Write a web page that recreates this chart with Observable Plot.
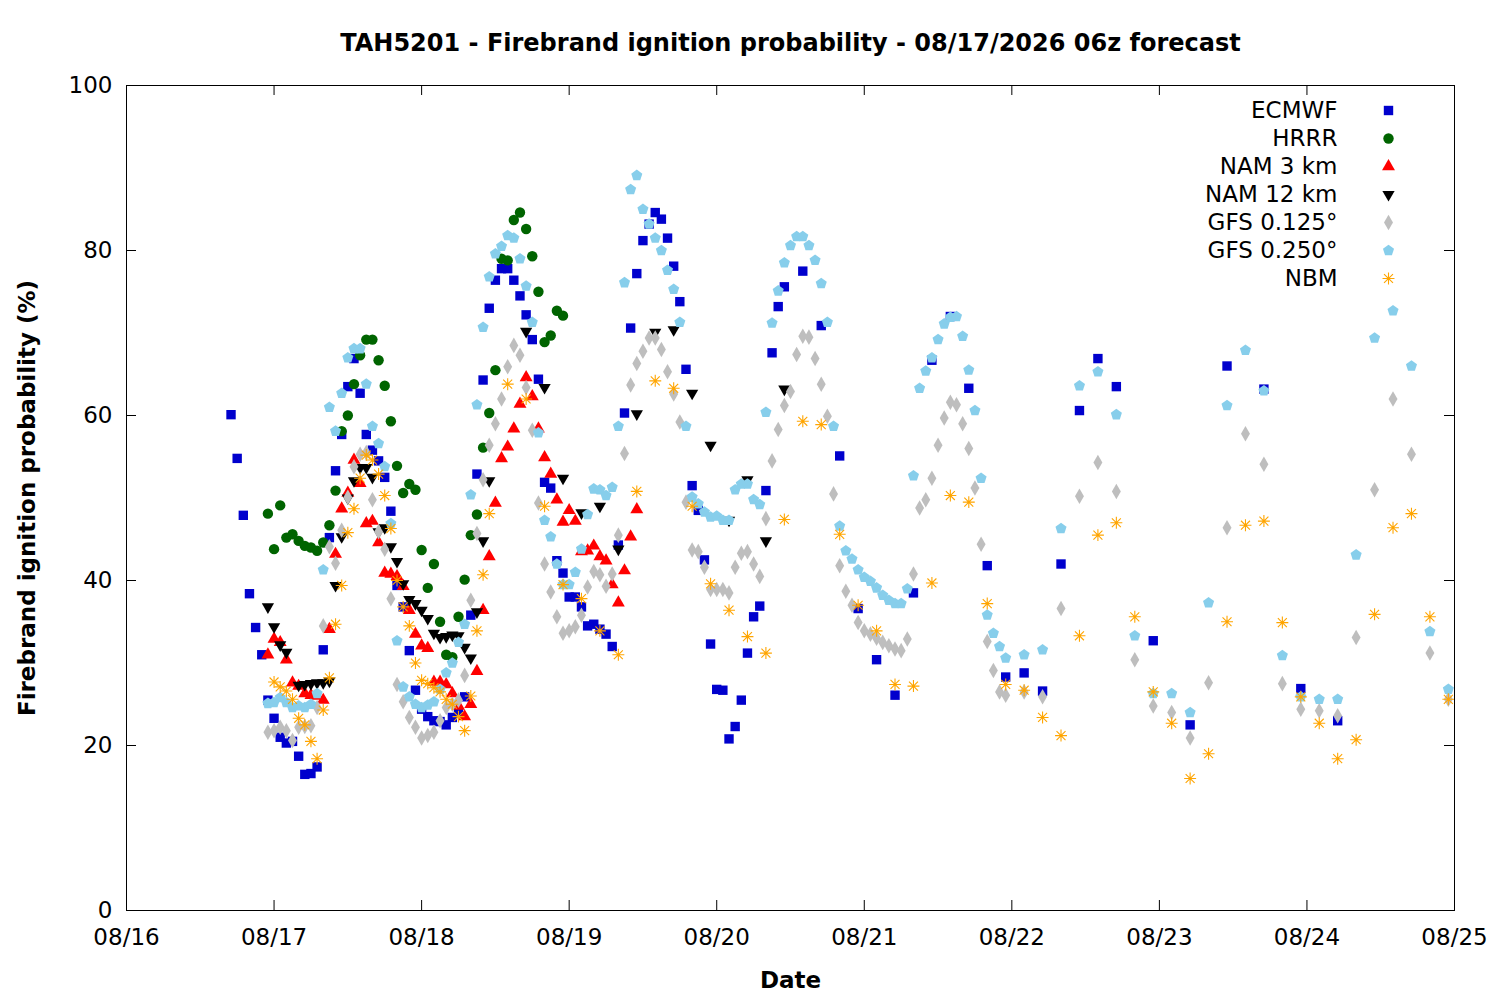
<!DOCTYPE html>
<html><head><meta charset="utf-8">
<script src="https://cdn.jsdelivr.net/npm/d3@7"></script>
<script src="https://cdn.jsdelivr.net/npm/@observablehq/plot@0.6"></script>
<style>
body{margin:0;background:#fff;}
#chart svg{font-family:"DejaVu Sans",sans-serif;background:#fff;}
</style></head><body><div id="chart"></div>
<script>
const title = "TAH5201 - Firebrand ignition probability - 08/17/2026 06z forecast";
const xLabel = "Date";
const yLabel = "Firebrand ignition probability (%)";
const forecastBase = "2026-08-16T00:00:00Z"; // hours below are counted from this time
const dayTicks = ["2026-08-16","2026-08-17","2026-08-18","2026-08-19","2026-08-20","2026-08-21","2026-08-22","2026-08-23","2026-08-24","2026-08-25"];
const yTicks = [0, 20, 40, 60, 80, 100];
const seriesNames = ["ECMWF","HRRR","NAM 3 km","NAM 12 km","GFS 0.125°","GFS 0.250°","NBM"];
const seriesColors = ["#0000cd","#006400","#ff0000","#000000","#bebebe","#87ceeb","#ffa500"];

// [hour since base, probability %]
const ecmwf = [[17,60.1],[18,54.8],[19,47.9],[20,38.4],[21,34.3],[22,31.0],[23,25.5],[24,23.3],[25,21.0],[26,20.3],[27,20.5],[28,18.7],[29,16.5],[30,16.6],[31,17.4],[32,31.6],[33,45.2],[34,53.3],[35,57.7],[36,63.5],[37,66.9],[38,62.7],[39,57.7],[40,55.8],[41,54.5],[42,52.5],[43,48.4],[44,39.4],[45,36.8],[46,31.5],[47,26.7],[48,24.4],[49,23.5],[50,23.0],[51,22.9],[52,22.5],[53,23.4],[54,24.0],[55,25.9],[56,35.8],[57,52.9],[58,64.3],[59,73.0],[60,76.4],[61,77.8],[62,77.8],[63,76.4],[64,74.5],[65,72.2],[66,69.2],[67,64.4],[68,51.9],[69,51.2],[70,42.4],[71,40.9],[72,38.0],[73,38.0],[74,36.8],[75,34.5],[76,34.7],[77,34.1],[78,33.5],[79,32.0],[80,44.3],[81,60.3],[82,70.6],[83,77.2],[84,81.2],[85,83.2],[86,84.6],[87,83.8],[88,81.5],[89,78.1],[90,73.8],[91,65.6],[92,51.5],[93,48.5],[94,42.5],[95,32.3],[96,26.8],[97,26.7],[98,20.8],[99,22.3],[100,25.5],[101,31.2],[102,35.6],[103,36.9],[104,50.9],[105,67.6],[106,73.2],[107,75.6],[110,77.5],[113,70.9],[116,55.1],[119,36.6],[122,30.4],[125,26.1],[128,38.5],[131,66.7],[134,72.0],[137,63.3],[140,41.8],[143,28.3],[146,28.8],[149,26.6],[152,42.0],[155,60.6],[158,66.9],[161,63.5],[167,32.7],[173,22.5],[179,66.0],[185,63.2],[191,26.9],[197,23.0]];

const hrrr = [[23,48.1],[24,43.8],[25,49.1],[26,45.2],[27,45.6],[28,44.8],[29,44.2],[30,44.0],[31,43.6],[32,44.6],[33,46.7],[34,50.9],[35,58.1],[36,60.0],[37,63.8],[38,67.3],[39,69.2],[40,69.2],[41,66.7],[42,63.6],[43,59.3],[44,53.9],[45,50.6],[46,51.7],[47,51.0],[48,43.7],[49,39.1],[50,42.0],[51,35.0],[52,31.0],[53,30.7],[54,35.6],[55,40.1],[56,45.5],[57,48.0],[58,56.1],[59,60.3],[60,65.5],[61,79.0],[62,78.8],[63,83.7],[64,84.6],[65,82.6],[66,79.3],[67,75.0],[68,68.9],[69,69.7],[70,72.7],[71,72.1]];

const nam3 = [[23,31.0],[24,32.9],[25,32.5],[26,30.4],[27,27.6],[28,27.2],[29,26.3],[30,26.1],[31,26.0],[32,25.5],[33,34.1],[34,43.2],[35,48.7],[36,50.6],[37,54.6],[38,51.8],[39,46.9],[40,47.2],[41,44.6],[42,40.9],[43,40.8],[44,40.5],[45,39.3],[46,36.4],[47,33.5],[48,32.1],[49,31.8],[50,27.7],[51,27.7],[52,27.4],[53,26.3],[54,24.8],[55,23.5],[56,25.0],[57,29.0],[58,36.4],[59,42.9],[60,49.4],[61,54.8],[62,56.2],[63,58.4],[64,61.4],[65,64.6],[66,62.3],[67,58.4],[68,54.9],[69,52.9],[70,49.8],[71,47.1],[72,48.5],[73,47.2],[74,43.5],[75,43.6],[76,44.2],[77,42.9],[78,42.4],[79,39.5],[80,37.3],[81,41.2],[82,45.3],[83,48.6]];

const nam12 = [[23,36.8],[24,34.4],[25,32.2],[26,31.3],[28,27.3],[29,27.4],[30,27.5],[31,27.6],[32,27.6],[33,27.8],[34,39.4],[35,45.3],[36,50.0],[37,52.1],[38,53.7],[39,53.7],[40,52.5],[41,45.9],[42,46.4],[43,44.1],[44,42.3],[45,39.6],[46,37.7],[47,37.2],[48,36.4],[49,35.4],[50,33.6],[51,33.1],[52,33.2],[53,33.4],[54,33.3],[55,31.9],[56,30.6],[57,36.2],[58,44.8],[59,52.1],[65,70.2],[68,63.4],[71,52.4],[74,48.2],[77,49.0],[80,43.8],[83,60.2],[86,70.1],[89,70.4],[92,62.7],[95,56.4],[98,47.3],[101,52.2],[104,44.8],[107,63.2]];

const gfs0125 = [[23,21.6],[24,21.8],[25,22.2],[26,21.8],[27,20.6],[28,22.2],[29,22.3],[30,22.4],[31,24.6],[32,34.5],[33,44.1],[34,42.1],[35,46.1],[36,50.1],[37,53.8],[38,55.3],[39,55.5],[40,49.8],[41,45.9],[42,43.8],[43,37.8],[44,27.4],[45,25.3],[46,23.4],[47,22.2],[48,20.9],[49,21.2],[50,21.6],[51,23.0],[52,24.6],[53,25.0],[54,25.5],[55,28.5],[56,37.6],[57,45.7],[58,52.2],[59,56.4],[60,59.0],[61,62.0],[62,65.9],[63,68.5],[64,67.3],[65,63.4],[66,58.2],[67,49.4],[68,42.0],[69,38.6],[70,35.6],[71,33.6],[72,33.9],[73,34.4],[74,35.8],[75,39.2],[76,41.1],[77,40.7],[78,39.3],[79,40.8],[80,45.5],[81,55.4],[82,63.7],[83,66.3],[84,67.8],[85,69.4],[86,69.4],[87,68.0],[88,65.3],[89,62.6],[90,59.2],[91,49.5],[92,43.7],[93,43.5],[94,41.6],[95,38.9],[96,38.9],[97,38.9],[98,38.5],[99,41.6],[100,43.3],[101,43.5],[102,42.0],[103,40.5],[104,47.5],[105,54.5],[106,58.3],[107,61.2],[108,62.9],[109,67.4],[110,69.6],[111,69.5],[112,66.9],[113,63.8],[114,59.9],[115,50.5],[116,41.8],[117,38.7],[118,37.0],[119,34.9],[120,33.9],[121,33.5],[122,33.0],[123,32.5],[124,32.1],[125,31.7],[126,31.5],[127,32.9],[128,40.8],[129,48.8],[130,49.8],[131,52.4],[132,56.4],[133,59.7],[134,61.6],[135,61.3],[136,59.0],[137,56.0],[138,51.2],[139,44.4],[140,32.6],[141,29.1],[142,26.5],[143,26.1],[146,26.5],[149,25.9],[152,36.6],[155,50.2],[158,54.3],[161,50.8],[164,30.4],[167,24.8],[170,24.0],[173,20.9],[176,27.6],[179,46.4],[182,57.8],[185,54.1],[188,27.5],[191,24.4],[194,24.2],[197,23.6],[200,33.1],[203,51.0],[206,62.0],[209,55.3],[212,31.2],[215,25.6]];

const gfs0250 = [[23,25.1],[24,25.2],[25,25.8],[26,25.2],[27,24.6],[28,24.8],[29,24.6],[30,25.0],[31,26.3],[32,41.3],[33,61.0],[34,58.1],[35,62.7],[36,67.0],[37,68.1],[38,68.1],[39,63.8],[40,58.7],[41,56.6],[42,53.8],[43,46.9],[44,32.7],[45,27.1],[46,25.9],[47,25.0],[48,24.6],[49,24.9],[50,25.3],[51,26.8],[52,28.8],[53,30.0],[54,32.5],[55,34.7],[56,50.4],[57,61.3],[58,70.7],[59,76.8],[60,79.6],[61,80.5],[62,81.8],[63,81.5],[64,79.0],[65,75.7],[66,71.3],[67,57.9],[68,47.3],[69,45.3],[70,42.0],[71,39.5],[72,39.5],[73,41.0],[74,43.8],[75,48.0],[76,51.1],[77,51.0],[78,50.3],[79,51.3],[80,58.7],[81,76.1],[82,87.4],[83,89.1],[84,85.0],[85,83.2],[86,81.5],[87,80.0],[88,77.6],[89,75.3],[90,71.3],[91,58.7],[92,50.1],[93,49.3],[94,48.3],[95,47.7],[96,47.8],[97,47.3],[98,47.3],[99,51.0],[100,51.7],[101,51.7],[102,49.8],[103,49.2],[104,60.4],[105,71.2],[106,75.1],[107,78.5],[108,80.6],[109,81.7],[110,81.7],[111,80.6],[112,78.8],[113,76.0],[114,71.3],[115,58.7],[116,46.6],[117,43.6],[118,42.6],[119,41.3],[120,40.4],[121,39.9],[122,39.1],[123,38.2],[124,37.6],[125,37.2],[126,37.2],[127,39.0],[128,52.7],[129,63.3],[130,65.4],[131,67.0],[132,69.2],[133,71.1],[134,71.9],[135,72.0],[136,69.6],[137,65.5],[138,60.6],[139,52.4],[140,35.8],[141,33.6],[142,32.0],[143,30.6],[146,31.0],[149,31.6],[152,46.3],[155,63.6],[158,65.3],[161,60.1],[164,33.3],[167,26.3],[170,26.3],[173,24.0],[176,37.3],[179,61.2],[182,67.9],[185,63.0],[188,30.9],[191,25.9],[194,25.6],[197,25.6],[200,43.1],[203,69.4],[206,72.7],[209,66.0],[212,33.8],[215,26.8]];

const nbm = [[24,27.7],[25,27.1],[26,26.6],[27,25.6],[28,23.3],[29,22.5],[30,20.5],[31,18.4],[32,24.3],[33,28.2],[34,34.7],[35,39.4],[36,45.8],[37,48.7],[38,52.4],[39,55.2],[40,54.6],[41,52.9],[42,50.3],[43,46.3],[44,40.0],[45,36.8],[46,34.5],[47,30.0],[48,27.9],[49,27.5],[50,27.0],[51,26.5],[52,25.6],[53,25.0],[54,23.5],[55,21.8],[56,26.0],[57,33.9],[58,40.7],[59,48.1],[62,63.8],[65,62.0],[68,49.0],[71,39.5],[74,37.8],[77,33.9],[80,31.0],[83,50.8],[86,64.2],[89,63.3],[92,49.0],[95,39.6],[98,36.4],[101,33.2],[104,31.2],[107,47.4],[110,59.3],[113,58.9],[116,45.6],[119,37.0],[122,33.9],[125,27.4],[128,27.2],[131,39.7],[134,50.3],[137,49.5],[140,37.2],[143,27.4],[146,26.7],[149,23.4],[152,21.2],[155,33.3],[158,45.5],[161,47.0],[164,35.6],[167,26.5],[170,22.7],[173,16.0],[176,19.0],[179,35.0],[182,46.7],[185,47.2],[188,34.9],[191,25.9],[194,22.7],[197,18.4],[200,20.7],[203,35.9],[206,46.4],[209,48.1],[212,35.6],[215,25.6]];

const seriesData = [ecmwf, hrrr, nam3, nam12, gfs0125, gfs0250, nbm];

// custom gnuplot-like symbols
const triangleDown = {draw(ctx, size){const r=Math.sqrt(size/Math.PI), a=1.2*r; ctx.moveTo(-a,-a/Math.sqrt(3)); ctx.lineTo(a,-a/Math.sqrt(3)); ctx.lineTo(0,2*a/Math.sqrt(3)); ctx.closePath();}};
const pentagon = {draw(ctx, size){const r=Math.sqrt(size/Math.PI)*1.12; for(let k=0;k<5;k++){const ang=-Math.PI/2+k*2*Math.PI/5; const px=r*Math.cos(ang), py=r*Math.sin(ang); if(k===0) ctx.moveTo(px,py); else ctx.lineTo(px,py);} ctx.closePath();}};
const asterisk = {draw(ctx, size){const r=Math.sqrt(size/Math.PI)*1.15, d=r*0.75; ctx.moveTo(-r,0); ctx.lineTo(r,0); ctx.moveTo(0,-r); ctx.lineTo(0,r); ctx.moveTo(-d,-d); ctx.lineTo(d,d); ctx.moveTo(-d,d); ctx.lineTo(d,-d);}};

const styles = [
  {symbol:"square", r:5.3, filled:true},
  {symbol:"circle", r:5.2, filled:true},
  {symbol:"triangle", r:4.8, filled:true},
  {symbol:triangleDown, r:5.1, filled:true},
  {symbol:"diamond", r:4.7, filled:true},
  {symbol:pentagon, r:5.2, filled:true},
  {symbol:asterisk, r:5.2, filled:false}
];

const base = Date.parse(forecastBase);
const toDate = h => new Date(base + h * 3600000);
const days = dayTicks.map(d => new Date(d + "T00:00:00Z"));

const W = 1500, H = 1000, mL = 126, mR = 46, mT = 85, mB = 90;
const plotW = W - mL - mR, plotH = H - mT - mB, tickLen = 10;
const fs = 23;

const marks = [];
seriesData.forEach((arr, i) => {
  const st = styles[i];
  marks.push(Plot.dot(arr, {
    x: d => toDate(d[0]), y: d => d[1],
    symbol: () => st.symbol, r: st.r,
    fill: st.filled ? seriesColors[i] : "none",
    stroke: st.filled ? "none" : seriesColors[i],
    strokeWidth: 1.1
  }));
});

// legend
seriesNames.forEach((name, i) => {
  const st = styles[i];
  marks.push(Plot.dot([name], {frameAnchor:"top-right", dx:-66, dy:25 + 28*i, symbol: () => st.symbol, r: st.r,
    fill: st.filled ? seriesColors[i] : "none", stroke: st.filled ? "none" : seriesColors[i], strokeWidth:1.1}));
  marks.push(Plot.text([name], {text: d => d, frameAnchor:"top-right", dx:-117, dy:25 + 28*i, textAnchor:"end", lineAnchor:"middle", fontSize:fs, fill:"black"}));
});

// frame and inward ticks (mirrored)
marks.push(Plot.frame({stroke:"black", strokeWidth:1}));
marks.push(Plot.tickX(days, {x: d => d, insetTop: plotH - tickLen, stroke:"black"}));
marks.push(Plot.tickX(days, {x: d => d, insetBottom: plotH - tickLen, stroke:"black"}));
marks.push(Plot.tickY(yTicks, {y: d => d, insetRight: plotW - tickLen, stroke:"black"}));
marks.push(Plot.tickY(yTicks, {y: d => d, insetLeft: plotW - tickLen, stroke:"black"}));

marks.push(Plot.axisX({ticks: days, tickFormat: d3.utcFormat("%m/%d"), tickSize: 0, tickPadding: 18, fontSize: fs, label: null}));
marks.push(Plot.axisY({ticks: yTicks, tickSize: 0, tickPadding: 14, fontSize: fs, label: null}));

// titles
marks.push(Plot.text([title], {text: d => d, frameAnchor:"top", dy:-42, lineAnchor:"middle", textAnchor:"middle", fontSize:24, fontWeight:"bold", fill:"black"}));
marks.push(Plot.text([xLabel], {text: d => d, frameAnchor:"bottom", dy:70, lineAnchor:"middle", textAnchor:"middle", fontSize:fs, fontWeight:"bold", fill:"black"}));
marks.push(Plot.text([yLabel], {text: d => d, frameAnchor:"left", dx:-99, rotate:-90, lineAnchor:"middle", textAnchor:"middle", fontSize:fs, fontWeight:"bold", fill:"black"}));

const chart = Plot.plot({
  width: W, height: H,
  marginLeft: mL, marginRight: mR, marginTop: mT, marginBottom: mB,
  x: {type: "utc", domain: [days[0], days[days.length - 1]]},
  y: {domain: [0, 100]},
  style: {fontFamily: "DejaVu Sans, sans-serif", fontSize: fs + "px", color: "black", background: "white"},
  marks
});
document.getElementById("chart").appendChild(chart);
</script></body></html>
